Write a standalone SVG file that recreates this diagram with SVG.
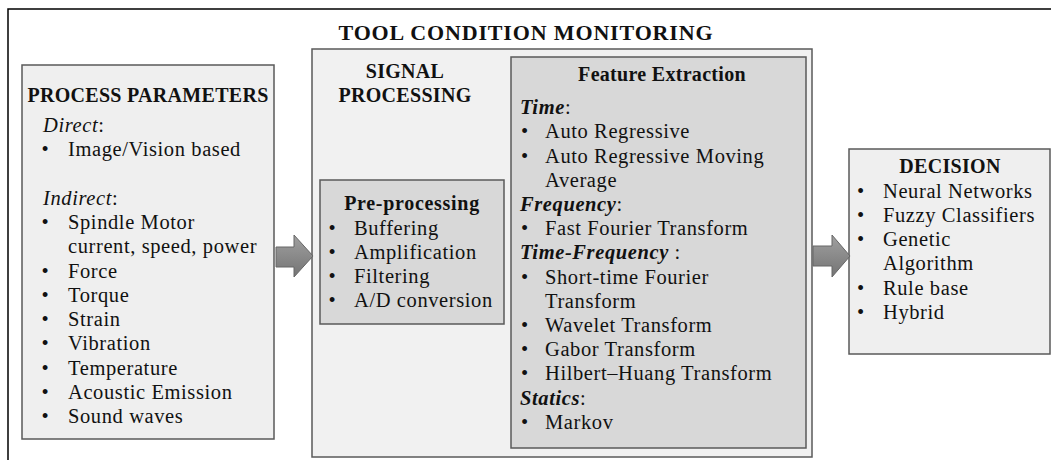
<svg xmlns="http://www.w3.org/2000/svg" width="1051" height="460" viewBox="0 0 1051 460">
<style>
text{font-family:"Liberation Serif","Times New Roman",serif;fill:#111111;}
.h{font-size:20px;font-weight:bold;letter-spacing:0.3px;}
.t{font-size:22px;font-weight:bold;letter-spacing:0.85px;}
.b{font-size:20.5px;letter-spacing:0.6px;}
.i{font-style:italic;}
.bi{font-style:italic;font-weight:bold;}
.box{stroke:#5a5a5a;stroke-width:1.5;}
.light{fill:#efefef;}
.dark{fill:#d8d8d8;}
.arrow{fill:url(#ag);stroke:#666;stroke-width:1;}
</style>
<defs>
<linearGradient id="ag" x1="0" y1="0" x2="0" y2="1">
<stop offset="0" stop-color="#a0a0a0"/>
<stop offset="1" stop-color="#747474"/>
</linearGradient>
</defs>
<rect x="0" y="0" width="1051" height="460" fill="#ffffff"/>
<g id="frame">
<path d="M8,460 V9 H1051" fill="none" stroke="#000" stroke-width="1.5"/>
<text class="t" x="526" y="40" text-anchor="middle">TOOL CONDITION MONITORING</text>
</g>
<g id="process-parameters">
<rect class="box light" x="22" y="65" width="252" height="374"/>
<text class="h" x="148" y="102" text-anchor="middle">PROCESS PARAMETERS</text>
<text class="b" x="43" y="132"><tspan class="i">Direct</tspan>:</text>
<text class="b" x="41.5" y="156">•</text><text class="b" x="68" y="156">Image/Vision based</text>
<text class="b" x="43" y="205"><tspan class="i">Indirect</tspan>:</text>
<text class="b" x="41.5" y="229">•</text><text class="b" x="68" y="229">Spindle Motor</text>
<text class="b" x="68" y="253">current, speed, power</text>
<text class="b" x="41.5" y="277.5">•</text><text class="b" x="68" y="277.5">Force</text>
<text class="b" x="41.5" y="302">•</text><text class="b" x="68" y="302">Torque</text>
<text class="b" x="41.5" y="326">•</text><text class="b" x="68" y="326">Strain</text>
<text class="b" x="41.5" y="350">•</text><text class="b" x="68" y="350">Vibration</text>
<text class="b" x="41.5" y="374.5">•</text><text class="b" x="68" y="374.5">Temperature</text>
<text class="b" x="41.5" y="399">•</text><text class="b" x="68" y="399">Acoustic Emission</text>
<text class="b" x="41.5" y="423">•</text><text class="b" x="68" y="423">Sound  waves</text>
</g>
<g id="signal-processing">
<rect class="box" fill="#f1f1f1" x="312" y="49" width="500" height="408"/>
<text class="h" x="405" y="78" text-anchor="middle">SIGNAL</text>
<text class="h" x="405" y="102" text-anchor="middle">PROCESSING</text>
</g>
<g id="pre-processing">
<rect class="box dark" x="320" y="180" width="184" height="144"/>
<text class="h" x="412" y="210" text-anchor="middle" style="letter-spacing:0.7px">Pre-processing</text>
<text class="b" x="328.5" y="234.5">•</text><text class="b" x="354" y="234.5">Buffering</text>
<text class="b" x="328.5" y="258.5">•</text><text class="b" x="354" y="258.5">Amplification</text>
<text class="b" x="328.5" y="283">•</text><text class="b" x="354" y="283">Filtering</text>
<text class="b" x="328.5" y="307">•</text><text class="b" x="354" y="307">A/D conversion</text>
</g>
<g id="feature-extraction">
<rect class="box dark" x="511" y="57" width="295" height="391"/>
<text class="h" x="662" y="81" text-anchor="middle">Feature Extraction</text>
<text class="b" x="520" y="114"><tspan class="bi">Time</tspan>:</text>
<text class="b" x="521" y="138">•</text><text class="b" x="545" y="138">Auto Regressive</text>
<text class="b" x="521" y="162.5">•</text><text class="b" x="545" y="162.5">Auto Regressive Moving</text>
<text class="b" x="545" y="186.5">Average</text>
<text class="b" x="520" y="211"><tspan class="bi">Frequency</tspan>:</text>
<text class="b" x="521" y="235">•</text><text class="b" x="545" y="235">Fast Fourier Transform</text>
<text class="b" x="520" y="259"><tspan class="bi">Time-Frequency</tspan> :</text>
<text class="b" x="521" y="283.5">•</text><text class="b" x="545" y="283.5">Short-time Fourier</text>
<text class="b" x="545" y="307.5">Transform</text>
<text class="b" x="521" y="332">•</text><text class="b" x="545" y="332">Wavelet Transform</text>
<text class="b" x="521" y="356">•</text><text class="b" x="545" y="356">Gabor Transform</text>
<text class="b" x="521" y="380">•</text><text class="b" x="545" y="380">Hilbert–Huang Transform</text>
<text class="b" x="520" y="404.5"><tspan class="bi">Statics</tspan>:</text>
<text class="b" x="521" y="428.5">•</text><text class="b" x="545" y="428.5">Markov</text>
</g>
<g id="decision">
<rect class="box light" x="849" y="149" width="201" height="205"/>
<text class="h" x="950" y="173" text-anchor="middle">DECISION</text>
<text class="b" x="857" y="197.5">•</text><text class="b" x="883" y="197.5">Neural Networks</text>
<text class="b" x="857" y="221.5">•</text><text class="b" x="883" y="221.5">Fuzzy Classifiers</text>
<text class="b" x="857" y="246">•</text><text class="b" x="883" y="246">Genetic</text>
<text class="b" x="883" y="270">Algorithm</text>
<text class="b" x="857" y="294.5">•</text><text class="b" x="883" y="294.5">Rule base</text>
<text class="b" x="857" y="318.5">•</text><text class="b" x="883" y="318.5">Hybrid</text>
</g>
<g id="connectors">
<path class="arrow" d="M276,247 H294 V235 L313,256 L294,277 V267 H276 Z"/>
<path class="arrow" d="M813,246 H832 V235 L850,256 L832,277 V266 H813 Z"/>
</g>
</svg>
